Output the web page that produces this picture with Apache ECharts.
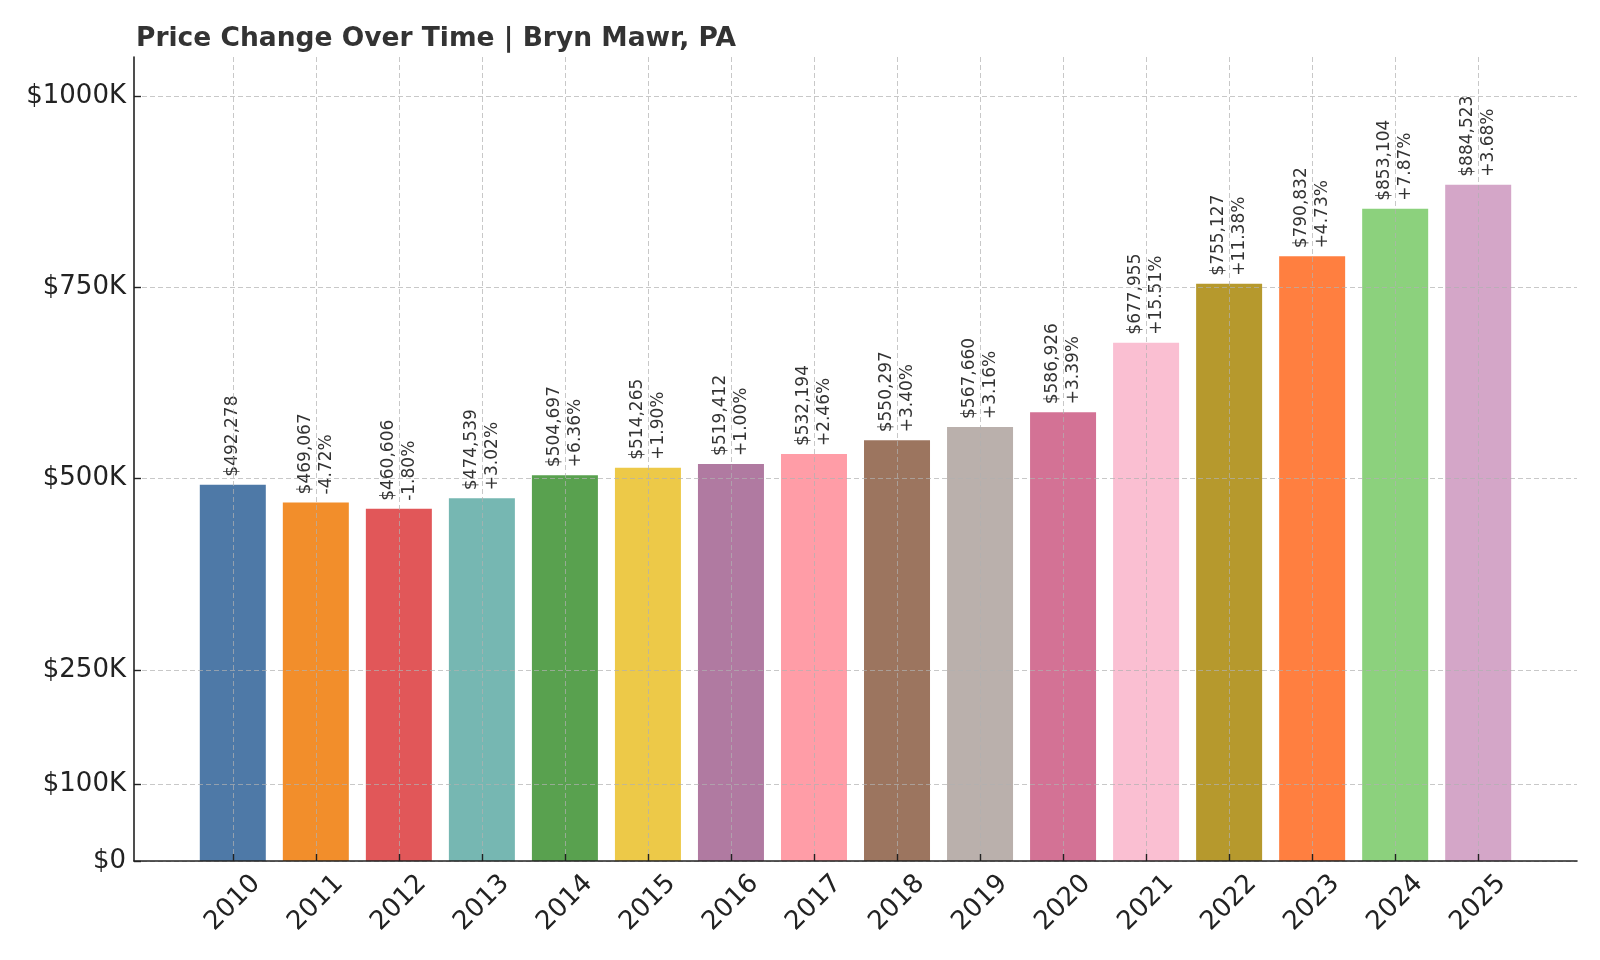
<!DOCTYPE html>
<html>
<head>
<meta charset="utf-8">
<script src="https://cdn.jsdelivr.net/npm/echarts@6/dist/echarts.min.js"></script>
<style>html,body{margin:0;padding:0;background:#fff;}#c{width:1600px;height:960px;}</style>
</head>
<body>
<div id="c"></div>
<script>
const years = ['2010','2011','2012','2013','2014','2015','2016','2017','2018','2019','2020','2021','2022','2023','2024','2025'];
const values = [492278, 469067, 460606, 474539, 504697, 514265, 519412, 532194, 550297, 567660, 586926, 677955, 755127, 790832, 853104, 884523];
const pctLabels = ['', '-4.72%', '-1.80%', '+3.02%', '+6.36%', '+1.90%', '+1.00%', '+2.46%', '+3.40%', '+3.16%', '+3.39%', '+15.51%', '+11.38%', '+4.73%', '+7.87%', '+3.68%'];
const barColors = ['#4e79a7','#f28e2b','#e15759','#76b7b2','#59a14f','#edc948','#b07aa1','#ff9da7','#9c755f','#bab0ac','#d37295','#fabfd2','#b6992d','#ff7f40','#8cd17d','#d4a6c8'];
const yTicks = [0, 100000, 250000, 500000, 750000, 1000000];
const yTickLabels = ['$0', '$100K', '$250K', '$500K', '$750K', '$1000K'];

const xIdx = years.map((y, i) => i);
const font = 'DejaVu Sans';
const gridLine = { show: true, lineStyle: { color: 'rgba(176,176,176,0.7)', width: 1, type: [5, 3] } };

const chart = echarts.init(document.getElementById('c'));
chart.setOption({
  animation: false,
  backgroundColor: '#fff',
  title: {
    text: 'Price Change Over Time | Bryn Mawr, PA',
    left: 131, top: 21,
    textStyle: { fontFamily: font, fontSize: 26.5, fontWeight: 'bold', color: '#333' }
  },
  grid: { left: 134, right: 23, top: 57, bottom: 99 },
  xAxis: {
    type: 'value', min: -1.19, max: 16.19, z: 10,
    axisLine: { show: true, onZero: false, lineStyle: { color: '#222', width: 1.6 } },
    axisTick: { show: true, inside: true, length: 7, customValues: xIdx, lineStyle: { color: '#222', width: 1.4 } },
    axisLabel: {
      customValues: xIdx, formatter: v => years[Math.round(v)] || '',
      rotate: 45, align: 'center', verticalAlign: 'middle', margin: 42,
      fontFamily: font, fontSize: 26, color: '#222'
    },
    splitLine: gridLine
  },
  yAxis: {
    type: 'value', min: 0, max: 1051600, z: 10,
    axisLine: { show: true, onZero: false, lineStyle: { color: '#222', width: 1.6 } },
    axisTick: { show: true, inside: true, length: 7, customValues: yTicks, lineStyle: { color: '#222', width: 1.4 } },
    axisLabel: {
      customValues: yTicks, formatter: v => { const k = yTicks.indexOf(v); return k >= 0 ? yTickLabels[k] : ''; },
      margin: 8, padding: [6, 0, 0, 0], fontFamily: font, fontSize: 26, color: '#222'
    },
    splitLine: gridLine
  },
  series: [{
    type: 'bar',
    barWidth: 66,
    clip: false,
    data: values.map((v, i) => ({ value: [i, v], itemStyle: { color: barColors[i] } })),
    label: {
      show: true, position: 'top', distance: 8, rotate: 90,
      align: 'left', verticalAlign: 'middle',
      fontFamily: font, fontSize: 17, lineHeight: 21, color: '#333',
      formatter: p => {
        const i = p.dataIndex;
        const s = '$' + values[i].toLocaleString('en-US');
        return pctLabels[i] ? s + '\n' + pctLabels[i] : s;
      }
    }
  }]
});
</script>
</body>
</html>
